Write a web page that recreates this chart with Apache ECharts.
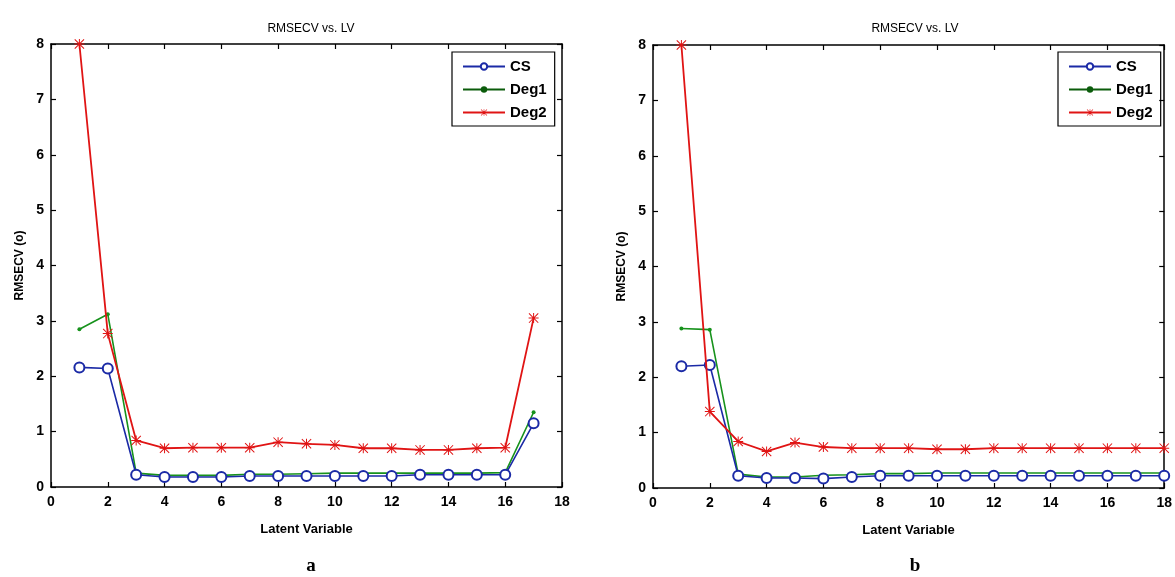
<!DOCTYPE html>
<html><head><meta charset="utf-8">
<script src="https://cdn.jsdelivr.net/npm/echarts@6/dist/echarts.min.js"></script>
<style>html,body{margin:0;padding:0;background:#fff}#c{width:1175px;height:577px}</style>
</head><body><div id="c"></div>
<script>
// Panel a
const lvA = [1,2,3,4,5,6,7,8,9,10,11,12,13,14,15,16,17];
const csA   = [2.16,2.14,0.22,0.18,0.18,0.18,0.20,0.20,0.20,0.20,0.20,0.20,0.22,0.22,0.22,0.22,1.15];
const deg1A = [2.85,3.12,0.25,0.21,0.21,0.21,0.23,0.23,0.24,0.25,0.25,0.25,0.25,0.25,0.25,0.26,1.35];
const deg2A = [8.00,2.77,0.84,0.70,0.71,0.71,0.71,0.81,0.78,0.76,0.70,0.70,0.67,0.67,0.70,0.71,3.05];
// Panel b
const lvB = [1,2,3,4,5,6,7,8,9,10,11,12,13,14,15,16,17,18];
const csB   = [2.20,2.22,0.22,0.18,0.18,0.17,0.20,0.22,0.22,0.22,0.22,0.22,0.22,0.22,0.22,0.22,0.22,0.22];
const deg1B = [2.88,2.86,0.25,0.20,0.20,0.23,0.24,0.26,0.26,0.27,0.27,0.27,0.27,0.27,0.27,0.27,0.27,0.27];
const deg2B = [8.00,1.38,0.84,0.66,0.82,0.74,0.72,0.72,0.72,0.70,0.70,0.72,0.72,0.72,0.72,0.72,0.72,0.72];
const seriesNames = ['CS','Deg1','Deg2'];
const titleText = 'RMSECV vs. LV';
const xName = 'Latent Variable';
const yName = 'RMSECV (o)';
const panelLabels = ['a','b'];

const pair = (xs, ys) => xs.map((x,i)=>[x, ys[i]]);
const star = 'path://M45 0H55V100H45Z M0 45H100V55H0Z M7 0L100 93L93 100L0 7Z M93 0L100 7L7 100L0 93Z';
const C_BLUE='#1b2aa6', C_GREEN='#17921c', C_RED='#e01414';
const tickFont = {fontFamily:'"Liberation Sans",Arial,sans-serif', fontWeight:'bold', fontSize:14, color:'#000'};

function mkX(gi, pos, labels){
  return {type:'value', gridIndex:gi, min:0, max:18, interval:2, position:pos,
    name: labels ? xName : '', nameLocation:'middle', nameGap:36,
    nameTextStyle:{fontFamily:'"Liberation Sans",Arial,sans-serif', fontWeight:'bold', fontSize:13, color:'#000'},
    axisLine:{show:true, onZero:false, lineStyle:{color:'#000', width:1.5}},
    axisTick:{show:true, inside:true, length:5, lineStyle:{color:'#000', width:1.2}},
    axisLabel:Object.assign({show:labels, margin:8}, tickFont),
    splitLine:{show:false}};
}
function mkY(gi, pos, labels){
  return {type:'value', gridIndex:gi, min:0, max:8, interval:1, position:pos,
    name: labels ? yName : '', nameLocation:'middle', nameGap:25,
    nameTextStyle:{fontFamily:'"Liberation Sans",Arial,sans-serif', fontWeight:'bold', fontSize:12, color:'#000'},
    axisLine:{show:true, onZero:false, lineStyle:{color:'#000', width:1.5}},
    axisTick:{show:true, inside:true, length:5, lineStyle:{color:'#000', width:1.2}},
    axisLabel:Object.assign({show:labels, margin:7}, tickFont),
    splitLine:{show:false}};
}
function mkSeries(gi, xs, cs, d1, d2){
  return [
    {name:'CS', type:'line', xAxisIndex:gi, yAxisIndex:gi, data:pair(xs,cs), symbol:'emptyCircle', symbolSize:10,
     lineStyle:{color:C_BLUE, width:1.6}, itemStyle:{color:C_BLUE, borderWidth:1.5}, z:3},
    {name:'Deg1', type:'line', xAxisIndex:gi, yAxisIndex:gi, data:pair(xs,d1), symbol:'circle', symbolSize:4,
     lineStyle:{color:C_GREEN, width:1.6}, itemStyle:{color:C_GREEN}, z:2},
    {name:'Deg2', type:'line', xAxisIndex:gi, yAxisIndex:gi, data:pair(xs,d2), symbol:star, symbolSize:10,
     lineStyle:{color:C_RED, width:1.8}, itemStyle:{color:C_RED}, z:4}
  ];
}
function mkLegend(left){
  return {left:left, top:52, orient:'vertical', selectedMode:false,
    data:[
      {name:seriesNames[0]},
      {name:seriesNames[1], itemStyle:{color:'#0b5c0b'}, lineStyle:{color:'#0b5c0b'}},
      {name:seriesNames[2]}
    ],
    borderColor:'#000', borderWidth:1.2,
    padding:[7,8,6,10], itemGap:8, itemWidth:42, itemHeight:8,
    textStyle:{fontFamily:'"Liberation Sans",Arial,sans-serif', fontWeight:'bold', fontSize:15, color:'#000'}};
}
const chart = echarts.init(document.getElementById('c'), null, {renderer:'canvas'});
chart.setOption({
  backgroundColor:'#fff',
  animation:false,
  title:[
    {text:titleText, left:306, top:18, textAlign:'center', textStyle:{fontFamily:'"Liberation Sans",Arial,sans-serif', fontWeight:'normal', fontSize:12, color:'#000'}},
    {text:titleText, left:910, top:18, textAlign:'center', textStyle:{fontFamily:'"Liberation Sans",Arial,sans-serif', fontWeight:'normal', fontSize:12, color:'#000'}},
    {text:panelLabels[0], left:306, top:552, textAlign:'center', textStyle:{fontFamily:'"Liberation Serif","Times New Roman",serif', fontWeight:'bold', fontSize:19, color:'#000'}},
    {text:panelLabels[1], left:910, top:552, textAlign:'center', textStyle:{fontFamily:'"Liberation Serif","Times New Roman",serif', fontWeight:'bold', fontSize:19, color:'#000'}}
  ],
  legend:[mkLegend(452), mkLegend(1058)],
  grid:[
    {left:51, right:613, top:44, bottom:90, show:false},
    {left:653, right:8, top:45, bottom:89, show:false}
  ],
  xAxis:[mkX(0,'bottom',true), mkX(1,'bottom',true), mkX(0,'top',false), mkX(1,'top',false)],
  yAxis:[mkY(0,'left',true), mkY(1,'left',true), mkY(0,'right',false), mkY(1,'right',false)],
  series:[].concat(mkSeries(0,lvA,csA,deg1A,deg2A), mkSeries(1,lvB,csB,deg1B,deg2B))
});
</script></body></html>
